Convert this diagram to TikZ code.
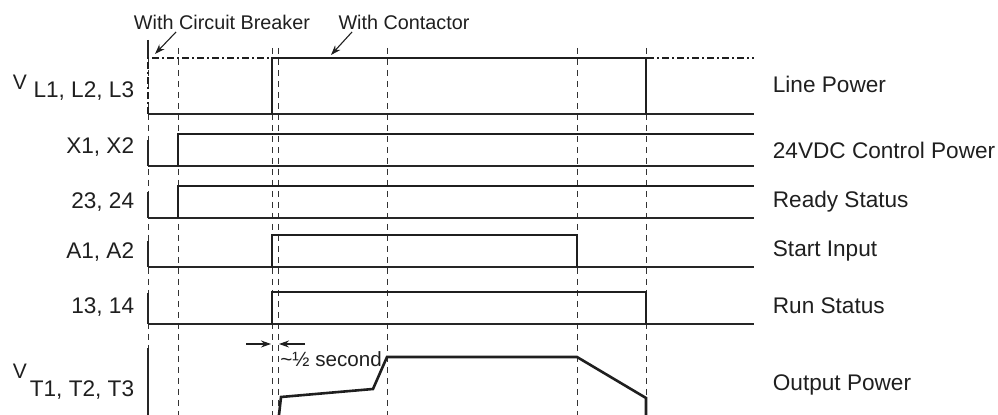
\documentclass[tikz,border=0pt]{standalone}
\usepackage{fontspec}
\setmainfont{Liberation Sans}
\usetikzlibrary{arrows.meta}

\tikzset{
  sig/.style={line width=1.3pt, line join=miter, color=black!88},
  base/.style={line width=0.55pt, color=black!85},
  tmark/.style={line width=0.5pt, color=black!80, dash pattern=on 3.2pt off 2.3pt},
  breaker/.style={line width=0.9pt, color=black!88, dash pattern=on 3.5pt off 1.5pt on 1pt off 1.5pt},
  lbl/.style={font=\fontsize{11.3}{13}\selectfont, inner sep=0.75pt, text=black!88},
  note/.style={font=\fontsize{9.9}{11}\selectfont, inner sep=0.75pt, text=black!88},
  pointer/.style={-{Stealth[length=5pt,width=3.5pt]}, line width=0.55pt, color=black!88},
}

\begin{document}
\begin{tikzpicture}[x=0.5pt,y=0.5pt,yscale=-1,xscale=1]
\useasboundingbox (0,0) rectangle (998,415);

%Dashed time marks
\foreach \t in {148,178,272,278,387,577,646}
  \draw [tmark] (\t,48) -- (\t,415);

%Base lines
\foreach \b in {114,166,218,267,324}
  \draw [base] (148,\b) -- (754,\b);

%Axis stubs
\draw [base] (148,40) -- (148,58);
\draw [base] (148,140) -- (148,166);
\draw [base] (148,192) -- (148,218);
\draw [base] (148,241) -- (148,267);
\draw [base] (148,293) -- (148,324);
\draw [base] (148,348) -- (148,415);

%Line power, circuit breaker
\draw [breaker] (148,114) -- (148,58) -- (754,58);
%Line power, contactor
\draw [sig] (272,114) -- (272,58) -- (646,58) -- (646,114);
%Control power
\draw [sig] (178,166) -- (178,134) -- (754,134);
%Ready status
\draw [sig] (178,218) -- (178,186) -- (754,186);
%Start input
\draw [sig] (272,267) -- (272,235) -- (577,235) -- (577,267);
%Run status
\draw [sig] (272,324) -- (272,292) -- (646,292) -- (646,324);
%Output power
\draw [sig] (279,415) -- (281,397) -- (373,389) -- (387,357) -- (577,357) -- (646,398) -- (646,415);

% Text Node
\node [lbl, font=\fontsize{10.5}{12}\selectfont] (vl) at (20,82) {V};
\node [lbl, anchor=east] (lsub) at (136,91) {L1, L2, L3};
\node [lbl, anchor=east] (xlbl) at (136,147) {X1, X2};
\node [lbl, anchor=east] (rlbl) at (136,202) {23, 24};
\node [lbl, anchor=east] (albl) at (136,252) {A1, A2};
\node [lbl, anchor=east] (slbl) at (136,307) {13, 14};
\node [lbl, font=\fontsize{10.5}{12}\selectfont] (vt) at (20,371) {V};
\node [lbl, anchor=east] (tsub) at (136,390) {T1, T2, T3};

% Text Node
\node [lbl, anchor=west] (linep) at (771,84) {Line Power};
\node [lbl, anchor=west] (ctrlp) at (771,150) {24VDC Control Power};
\node [lbl, anchor=west] (ready) at (771,202) {Ready Status};
\node [lbl, anchor=west] (start) at (771,251) {Start Input};
\node [lbl, anchor=west] (run) at (771,306) {Run Status};
\node [lbl, anchor=west] (outp) at (771,385) {Output Power};

% Text Node
\node [note] (cb) at (222,22) {With Circuit Breaker};
\node [note] (ct) at (404,22) {With Contactor};
\coordinate (cbtail) at (176,32);
\coordinate (cbtip) at (155,54);
\coordinate (cttail) at (352,32);
\coordinate (cttip) at (331,55);
\draw [pointer] (cbtail) -- (cbtip);
\draw [pointer] (cttail) -- (cttip);

%Half second delay
\coordinate (hl) at (246,344);
\coordinate (hlend) at (271,344);
\coordinate (hr) at (305,344);
\coordinate (hrend) at (279,344);
\draw [pointer] (hl) -- (hlend);
\draw [pointer] (hr) -- (hrend);
\node [lbl, font=\fontsize{10.3}{12}\selectfont, anchor=west, inner sep=0pt] (half) at (280,359) {\textasciitilde½ second};

\end{tikzpicture}
\end{document}
